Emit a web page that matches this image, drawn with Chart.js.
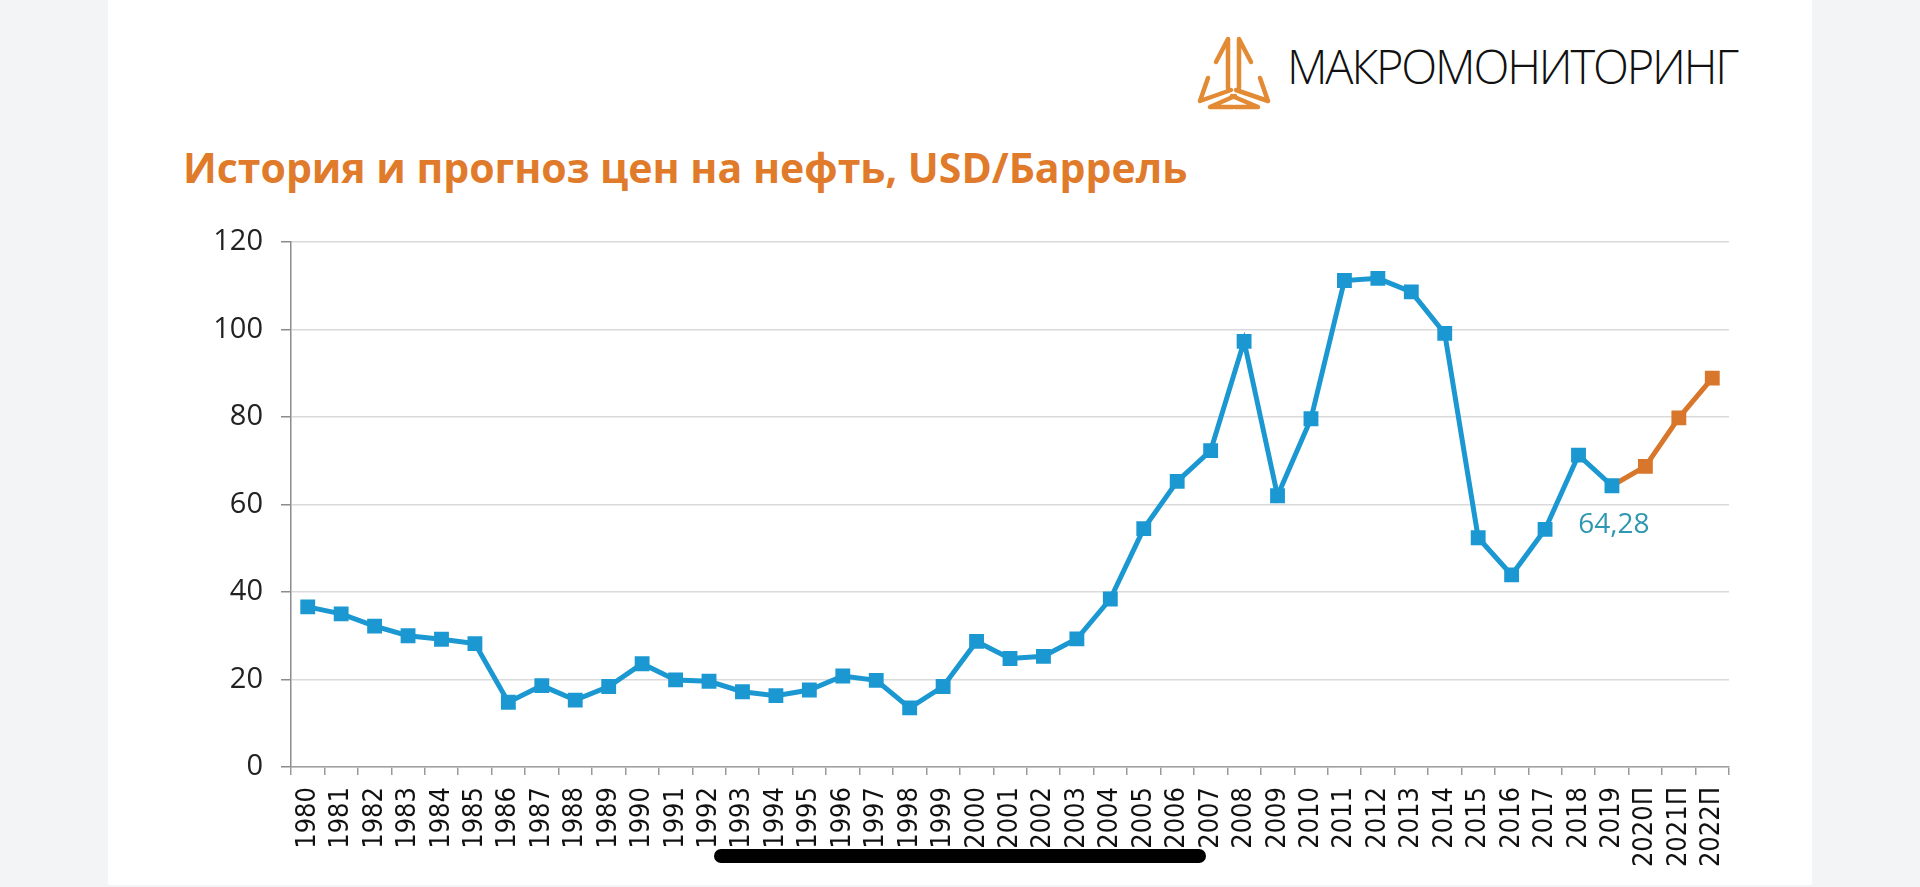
<!DOCTYPE html>
<html lang="ru">
<head>
<meta charset="utf-8">
<title>История и прогноз цен на нефть</title>
<script src="https://cdn.jsdelivr.net/npm/chart.js@4.4.1/dist/chart.umd.min.js"></script>
<style>
  html, body { margin: 0; padding: 0; }
  body { width: 1920px; height: 887px; background: #f3f4f6; position: relative; overflow: hidden; }
  #sheet { position: absolute; left: 108px; top: 0; width: 1704px; height: 885px; background: #fff; }
  #logo { position: absolute; left: 1188px; top: 28px; width: 92px; height: 86px; }
  #brand { position: absolute; left: 1287px; top: 38px; font-family: "Open Sans", sans-serif; font-weight: 300;
           font-size: 47px; line-height: 56px; color: #111; letter-spacing: -2.2px; white-space: nowrap; }
  #title { position: absolute; left: 183px; top: 142px; font-family: "Open Sans", sans-serif; font-weight: 700;
           font-size: 41px; line-height: 50px; color: #e07b2c; white-space: nowrap; }
  #wrap { position: absolute; left: 150px; top: 200px; width: 1662px; height: 687px; }
  #homebar { position: absolute; left: 714px; top: 849px; width: 492px; height: 14px; border-radius: 7px; background: #000; }
</style>
</head>
<body>
<div id="sheet"></div>
<svg id="logo" viewBox="0 0 92 86" fill="none" stroke="#e38a35" stroke-width="4.5" stroke-linecap="round" stroke-linejoin="round">
  <path d="M40 60 L40 11 L28 34 M51 60 L51 11 L63 34"/>
  <path d="M43 62 L12 73 L20 50 M47 68 L22 79 L45 79"/>
  <path d="M48 62 L80 73 L72 50 M44 68 L70 79 L47 79"/>
</svg>
<div id="brand">МАКРОМОНИТОРИНГ</div>
<div id="title">История и прогноз цен на нефть, USD/Баррель</div>
<div id="wrap"><canvas id="oilChart"></canvas></div>
<div id="homebar"></div>

<script>
  // Categories (years, П = прогноз)
  const years = ['1980', '1981', '1982', '1983', '1984', '1985', '1986', '1987', '1988', '1989',
                 '1990', '1991', '1992', '1993', '1994', '1995', '1996', '1997', '1998', '1999',
                 '2000', '2001', '2002', '2003', '2004', '2005', '2006', '2007', '2008', '2009',
                 '2010', '2011', '2012', '2013', '2014', '2015', '2016', '2017', '2018', '2019',
                 '2020П', '2021П', '2022П'];

  // History, USD/barrel
  const historyPrices = [36.6, 35.0, 32.2, 30.0, 29.2, 28.2, 14.8, 18.6, 15.3, 18.4,
                         23.6, 19.9, 19.6, 17.2, 16.3, 17.6, 20.8, 19.8, 13.5, 18.4,
                         28.7, 24.8, 25.3, 29.3, 38.4, 54.5, 65.3, 72.3, 97.3, 62.0,
                         79.6, 111.2, 111.7, 108.6, 99.1, 52.4, 43.9, 54.3, 71.3, 64.28,
                         null, null, null];

  // Forecast, starts from the last actual year
  const forecastPrices = [null, null, null, null, null, null, null, null, null, null,
                          null, null, null, null, null, null, null, null, null, null,
                          null, null, null, null, null, null, null, null, null, null,
                          null, null, null, null, null, null, null, null, null, 64.28,
                          68.7, 79.8, 88.9];

  const yTicks = [0, 20, 40, 60, 80, 100, 120];

  const labelIndex = 39;
  const blue = '#1b98d2';
  const orange = '#d8772b';

  // value label under the 2019 point
  const valueLabel = {
    id: 'valueLabel',
    afterDatasetsDraw(chart) {
      const pt = chart.getDatasetMeta(0).data[labelIndex];
      const ctx = chart.ctx;
      ctx.save();
      ctx.font = '28px "Open Sans"';
      ctx.fillStyle = '#2f97b2';
      ctx.textAlign = 'center';
      ctx.textBaseline = 'middle';
      ctx.fillText(String(historyPrices[labelIndex]).replace('.', ','), pt.x + 2, pt.y + 39);
      ctx.restore();
    }
  };

  const pointRadii = forecastPrices.map((v, i) => (i === labelIndex ? 0 : 10.5));

  new Chart(document.getElementById('oilChart').getContext('2d'), {
    type: 'line',
    data: {
      labels: years,
      datasets: [
        {
          data: historyPrices,
          borderColor: blue,
          backgroundColor: blue,
          borderWidth: 5,
          pointStyle: 'rect',
          pointRadius: 10.5,
          pointBorderWidth: 0,
          tension: 0
        },
        {
          data: forecastPrices,
          borderColor: orange,
          backgroundColor: orange,
          borderWidth: 5,
          pointStyle: 'rect',
          pointRadius: pointRadii,
          pointBorderWidth: 0,
          tension: 0
        }
      ]
    },
    options: {
      responsive: true,
      maintainAspectRatio: false,
      animation: false,
      layout: { padding: { top: 42, right: 83 } },
      plugins: { legend: { display: false }, tooltip: { enabled: false } },
      scales: {
        x: {
          offset: true,
          grid: { offset: true, drawOnChartArea: false, color: '#9a9a9a', tickLength: 8, lineWidth: 1.5 },
          border: { color: '#a0a0a0', width: 1.5 },
          ticks: {
            autoSkip: false, minRotation: 90, maxRotation: 90, padding: 12,
            color: '#111', font: { family: '"DejaVu Sans Condensed", "DejaVu Sans"', size: 27 }
          },
          afterFit(scale) { scale.height = 120; }
        },
        y: {
          min: 0, max: 120,
          afterBuildTicks(scale) { scale.ticks = yTicks.map(v => ({ value: v })); },
          grid: { color: '#dadada', lineWidth: 1.5, tickColor: '#8c8c8c', tickLength: 10 },
          border: { color: '#8c8c8c', width: 1.5 },
          ticks: { padding: 18, color: '#222', font: { family: '"Open Sans"', size: 29 } },
          afterFit(scale) { scale.width = 141; }
        }
      }
    },
    plugins: [valueLabel]
  });
</script>
</body>
</html>
